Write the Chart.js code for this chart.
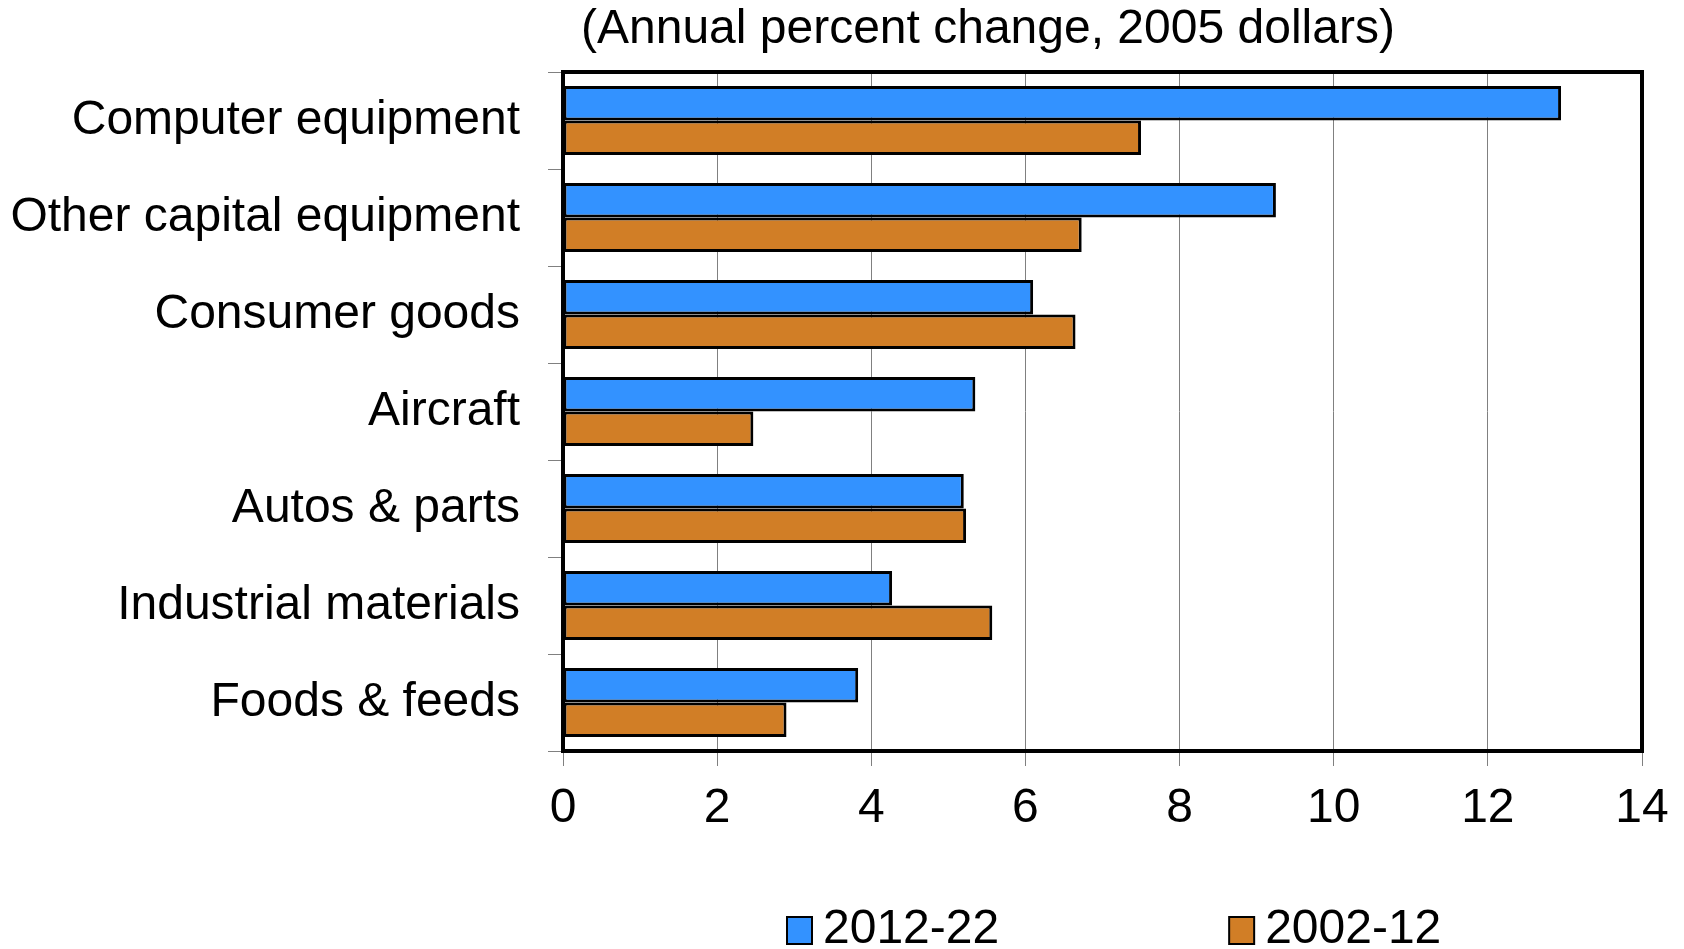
<!DOCTYPE html>
<html>
<head>
<meta charset="utf-8">
<script src="https://cdn.jsdelivr.net/npm/chart.js@4"></script>
<style>
  html, body { margin: 0; padding: 0; background: #fff; }
</style>
</head>
<body>
<canvas id="exportsChart" width="1684" height="949"></canvas>
<script>
const categories = [
  'Computer equipment',
  'Other capital equipment',
  'Consumer goods',
  'Aircraft',
  'Autos & parts',
  'Industrial materials',
  'Foods & feeds'
];
const growth2012to22 = [12.95, 9.25, 6.1, 5.35, 5.2, 4.27, 3.83];
const growth2002to12 = [7.5, 6.73, 6.65, 2.47, 5.23, 5.57, 2.9];
const seriesLabels = ['2012-22', '2002-12'];
const xTicks = [0, 2, 4, 6, 8, 10, 12, 14];
const unitsNote = '(Annual percent change, 2005 dollars)';

const FONT = '"Liberation Sans", Arial, sans-serif';
const BLUE = '#3392ff';
const ORANGE = '#d17e26';

// thick black box round the plot area
const frame = {
  id: 'frame',
  afterDatasetsDraw(chart) {
    const { ctx, chartArea: a } = chart;
    ctx.save();
    ctx.strokeStyle = '#000';
    ctx.lineWidth = 4;
    ctx.strokeRect(a.left, a.top, a.right - a.left, a.bottom - a.top);
    ctx.restore();
  }
};

// units line above the plot
const note = {
  id: 'note',
  afterDraw(chart) {
    const { ctx, chartArea: a } = chart;
    ctx.save();
    ctx.fillStyle = '#000';
    ctx.font = `48px ${FONT}`;
    ctx.textAlign = 'left';
    ctx.textBaseline = 'middle';
    ctx.fillText(unitsNote, a.left + 18, 30);
    ctx.restore();
  }
};

// legend row under the x axis, items spread apart
const wideLegend = {
  id: 'wideLegend',
  afterDraw(chart) {
    const { ctx, chartArea: a } = chart;
    const y = 930;
    let x = a.left + 224;
    ctx.save();
    ctx.font = `48px ${FONT}`;
    ctx.textBaseline = 'middle';
    chart.data.datasets.forEach((ds) => {
      ctx.fillStyle = ds.backgroundColor;
      ctx.fillRect(x, y - 13, 25, 27);
      ctx.strokeStyle = '#000';
      ctx.lineWidth = 2;
      ctx.strokeRect(x, y - 13, 25, 27);
      ctx.fillStyle = '#000';
      ctx.fillText(ds.label, x + 36, y);
      x += 36 + ctx.measureText(ds.label).width + 230;
    });
    ctx.restore();
  }
};

new Chart(document.getElementById('exportsChart'), {
  type: 'bar',
  data: {
    labels: categories,
    datasets: [
      {
        label: seriesLabels[0],
        data: growth2012to22,
        backgroundColor: BLUE,
        borderColor: '#000',
        borderWidth: 3,
        borderSkipped: false
      },
      {
        label: seriesLabels[1],
        data: growth2002to12,
        backgroundColor: ORANGE,
        borderColor: '#000',
        borderWidth: 3,
        borderSkipped: false
      }
    ]
  },
  options: {
    indexAxis: 'y',
    responsive: false,
    animation: false,
    categoryPercentage: 0.71,
    barPercentage: 1,
    layout: { padding: { top: 72, right: 42, bottom: 0, left: 0 } },
    plugins: {
      legend: { display: false },
      title: { display: false },
      tooltip: { enabled: false }
    },
    scales: {
      x: {
        min: 0,
        max: 14,
        afterBuildTicks: (scale) => {
          scale.ticks = xTicks.map((v) => ({ value: v }));
        },
        afterFit: (scale) => { scale.height = 198; },
        grid: { color: '#808080', lineWidth: 1, tickLength: 15 },
        border: { display: false },
        ticks: {
          color: '#000',
          padding: 14,
          maxRotation: 0,
          font: { family: FONT, size: 48 }
        }
      },
      y: {
        afterFit: (scale) => { scale.width = 563; },
        grid: {
          drawOnChartArea: false,
          color: '#808080',
          tickLength: 15,
          offset: true
        },
        border: { display: false },
        ticks: {
          color: '#000',
          padding: 28,
          font: { family: FONT, size: 48 }
        }
      }
    }
  },
  plugins: [frame, note, wideLegend]
});
</script>
</body>
</html>
